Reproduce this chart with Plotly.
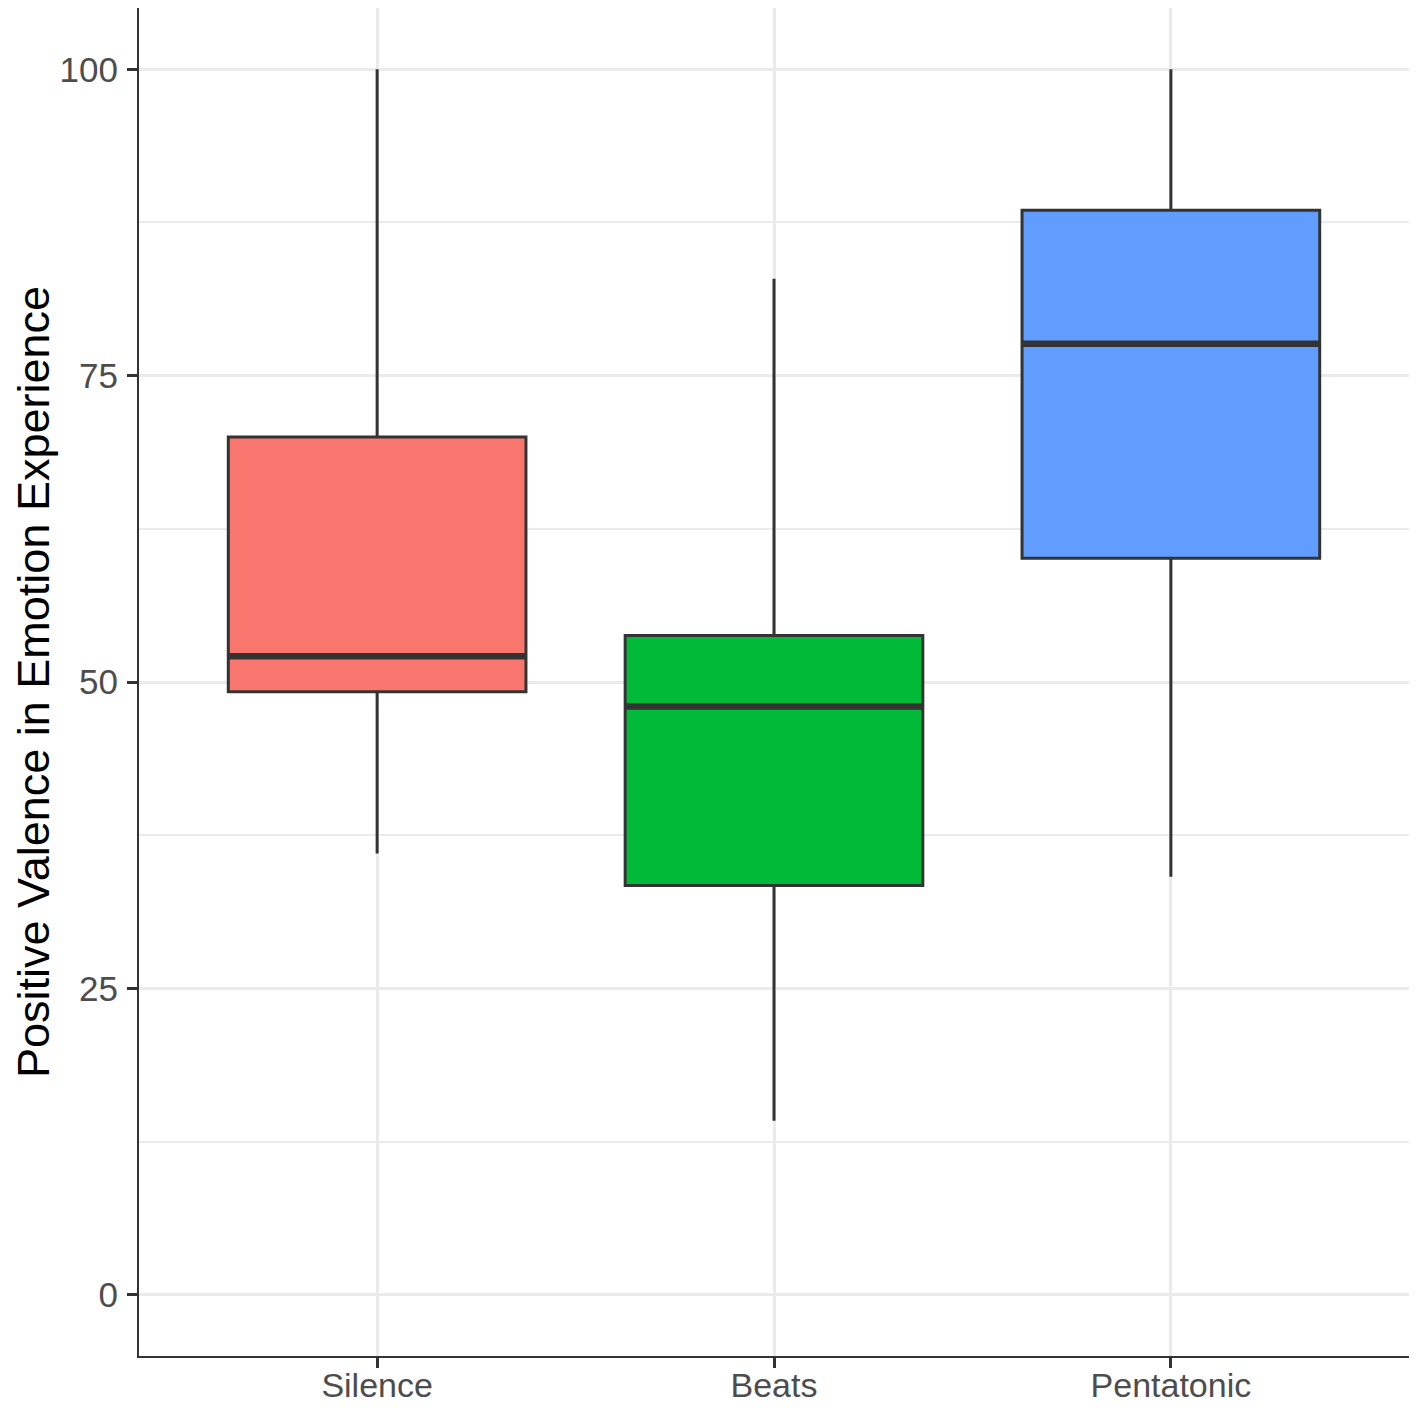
import plotly.graph_objects as go

categories = ["Silence", "Beats", "Pentatonic"]
lower_whisker = [36, 14.2, 34.1]
q1_values = [49.2, 33.4, 60.1]
median_values = [52.1, 48.0, 77.6]
q3_values = [70.0, 53.8, 88.5]
upper_whisker = [100, 82.9, 100]
fill_colors = ["#F8766D", "#00BA38", "#619CFF"]

y_ticks = [0, 25, 50, 75, 100]

font_family = "Liberation Sans, Arial, sans-serif"
edge = "#333333"

fig = go.Figure()
for i, cat in enumerate(categories):
    fig.add_trace(go.Box(
        x=[cat],
        q1=[q1_values[i]],
        median=[median_values[i]],
        q3=[q3_values[i]],
        lowerfence=[lower_whisker[i]],
        upperfence=[upper_whisker[i]],
        fillcolor=fill_colors[i],
        line=dict(color=edge, width=3),
        width=0.75,
        whiskerwidth=0,
        boxpoints=False,
        showlegend=False,
    ))

# thicker median bars (ggplot fatten)
fig.add_trace(go.Box(
    x=categories,
    q1=median_values,
    median=median_values,
    q3=median_values,
    lowerfence=median_values,
    upperfence=median_values,
    fillcolor="rgba(0,0,0,0)",
    line=dict(color=edge, width=6.5),
    width=0.75,
    whiskerwidth=0,
    boxpoints=False,
    showlegend=False,
))

fig.update_layout(
    width=1401,
    height=1395,
    margin=dict(l=131, r=0, t=0, b=47, autoexpand=False),
    paper_bgcolor="white",
    plot_bgcolor="white",
    boxmode="overlay",
    font=dict(family=font_family),
)

fig.update_xaxes(
    type="category",
    categoryorder="array",
    categoryarray=categories,
    range=[-0.6, 2.6],
    showgrid=True,
    gridcolor="#EBEBEB",
    gridwidth=3,
    showline=True,
    mirror=True,
    linecolor=edge,
    linewidth=2,
    ticks="outside",
    ticklen=10,
    tickwidth=3,
    tickcolor=edge,
    ticklabelstandoff=-12,
    tickfont=dict(size=34, color="#4D4D4D", family=font_family),
    zeroline=False,
)

fig.update_yaxes(
    range=[-5, 105],
    tickvals=y_ticks,
    ticktext=[str(v) for v in y_ticks],
    showgrid=True,
    gridcolor="#EBEBEB",
    gridwidth=3,
    minor=dict(tick0=12.5, dtick=25, showgrid=True, gridcolor="#EBEBEB", gridwidth=1.5, ticks=""),
    showline=True,
    mirror=True,
    linecolor=edge,
    linewidth=2,
    ticks="outside",
    ticklen=10,
    tickwidth=3,
    tickcolor=edge,
    ticklabelstandoff=2,
    tickfont=dict(size=35, color="#4D4D4D", family=font_family),
    zeroline=False,
    title=dict(text="Positive Valence in Emotion Experience",
               font=dict(size=45, color="black", family=font_family),
               standoff=16),
)

fig.write_html("out.html")
